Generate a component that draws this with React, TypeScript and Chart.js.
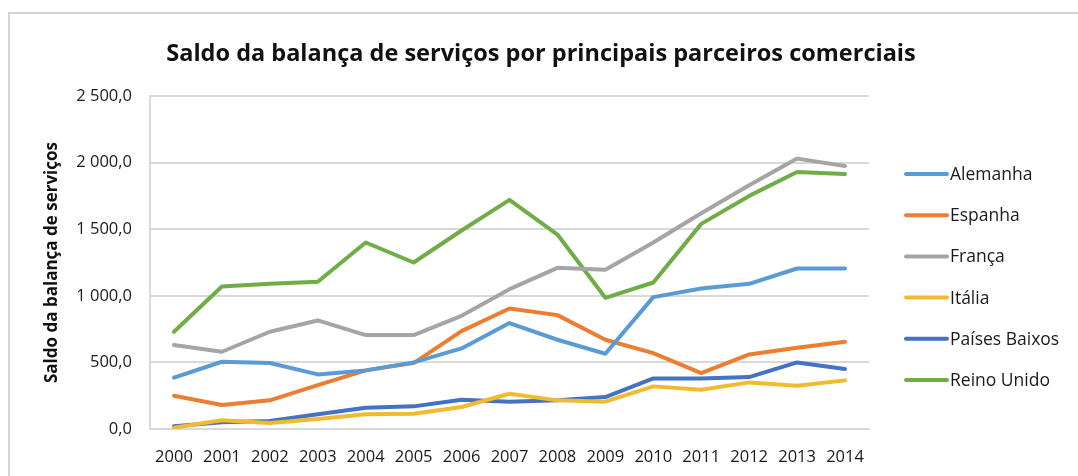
import React, { useEffect, useRef } from "react";
import { Chart, registerables } from "chart.js";

Chart.register(...registerables);

const years = ["2000","2001","2002","2003","2004","2005","2006","2007","2008","2009","2010","2011","2012","2013","2014"];

const alemanha = [385, 505, 495, 410, 440, 500, 605, 795, 670, 565, 990, 1055, 1090, 1205, 1205];
const espanha = [250, 180, 215, 330, 440, 495, 735, 905, 855, 670, 570, 420, 560, 610, 655];
const franca = [630, 580, 730, 815, 705, 705, 850, 1050, 1210, 1195, 1400, 1620, 1830, 2030, 1975];
const italia = [10, 65, 45, 75, 110, 115, 165, 265, 215, 205, 320, 295, 350, 325, 365];
const paisesBaixos = [20, 50, 60, 110, 160, 170, 220, 205, 215, 240, 380, 380, 390, 500, 450];
const reinoUnido = [730, 1070, 1090, 1105, 1400, 1250, 1490, 1720, 1460, 985, 1100, 1540, 1750, 1930, 1915];

const seriesNames = ["Alemanha", "Espanha", "França", "Itália", "Países Baixos", "Reino Unido"];
const seriesColors = ["#5B9BD5", "#ED7D31", "#A5A5A5", "#F2BA2E", "#4472C4", "#70AD47"];

const titleText = "Saldo da balança de serviços por principais parceiros comerciais";
const yTitle = "Saldo da balança de serviços";

const FONT = "'Open Sans', 'DejaVu Sans', sans-serif";

function fmt(v: number): string {
  const s = Math.abs(v).toFixed(1);
  const [i, d] = s.split(".");
  const withSep = i.replace(/\B(?=(\d{3})+(?!\d))/g, " ");
  return (v < 0 ? "-" : "") + withSep + "," + d;
}

const framePlugin = {
  id: "frame",
  beforeDraw(chart: any) {
    const ctx = chart.ctx;
    ctx.save();
    ctx.fillStyle = "#ffffff";
    ctx.fillRect(0, 0, chart.width, chart.height);
    ctx.strokeStyle = "#D4D4D4";
    ctx.lineWidth = 2;
    ctx.beginPath();
    ctx.moveTo(9, chart.height);
    ctx.lineTo(9, 13);
    ctx.lineTo(chart.width, 13);
    ctx.stroke();
    ctx.restore();
  },
  afterDraw(chart: any) {
    const ctx = chart.ctx;
    ctx.save();
    ctx.fillStyle = "#111111";
    ctx.font = `bold 23.5px ${FONT}`;
    ctx.textAlign = "center";
    ctx.textBaseline = "middle";
    ctx.fillText(titleText, 541, 54);
    ctx.restore();
  },
};

const legendPlugin = {
  id: "sideLegend",
  afterDraw(chart: any) {
    const ctx = chart.ctx;
    ctx.save();
    chart.data.datasets.forEach((ds: any, i: number) => {
      const y = 174 + i * 41.2;
      ctx.strokeStyle = ds.borderColor;
      ctx.lineWidth = 4;
      ctx.lineCap = "round";
      ctx.beginPath();
      ctx.moveTo(906, y);
      ctx.lineTo(947, y);
      ctx.stroke();
      ctx.fillStyle = "#1a1a1a";
      ctx.font = `17.5px ${FONT}`;
      ctx.textBaseline = "middle";
      ctx.textAlign = "left";
      ctx.fillText(ds.label, 950, y + 1);
    });
    ctx.restore();
  },
};

export default function App() {
  const ref = useRef<HTMLCanvasElement>(null);

  useEffect(() => {
    if (!ref.current) return;
    const data = [alemanha, espanha, franca, italia, paisesBaixos, reinoUnido];
    const chart = new Chart(ref.current, {
      type: "line",
      data: {
        labels: years,
        datasets: data.map((d, i) => ({
          label: seriesNames[i],
          data: d,
          borderColor: seriesColors[i],
          backgroundColor: seriesColors[i],
          borderWidth: 4,
          pointRadius: 0,
          tension: 0,
          borderJoinStyle: "round" as const,
          borderCapStyle: "round" as const,
        })),
      },
      options: {
        animation: false,
        responsive: false,
        maintainAspectRatio: false,
        layout: { padding: { left: 9, right: 209, top: 96, bottom: 0 } },
        plugins: {
          legend: { display: false },
          tooltip: { enabled: false },
          title: { display: false },
        },
        scales: {
          x: {
            offset: true,
            afterFit(scale: any) {
              scale.height = 47;
            },
            grid: { display: false, drawTicks: false },
            border: { display: true, color: "#D9D9D9", width: 2 },
            ticks: {
              color: "#1a1a1a",
              font: { family: FONT, size: 16.5 },
              padding: 18,
              maxRotation: 0,
              autoSkip: false,
            },
          },
          y: {
            min: 0,
            max: 2500,
            afterFit(scale: any) {
              scale.width = 141;
            },
            grid: { color: "#D9D9D9", lineWidth: 2, drawTicks: false },
            border: { display: true, color: "#D9D9D9", width: 2 },
            ticks: {
              stepSize: 500,
              color: "#1a1a1a",
              font: { family: FONT, size: 16.5 },
              padding: 18,
              callback: (v: any) => fmt(Number(v)),
            },
            title: {
              display: true,
              text: yTitle,
              color: "#111111",
              font: { family: FONT, size: 17, weight: "bold" },
              padding: { top: 33, bottom: 0 },
            },
          },
        },
      },
      plugins: [framePlugin, legendPlugin],
    });
    return () => chart.destroy();
  }, []);

  return (
    <div style={{ position: "fixed", left: 0, top: 0, width: 1078, height: 476, background: "#fff" }}>
      <canvas ref={ref} width={1078} height={476} style={{ width: 1078, height: 476, display: "block" }} />
    </div>
  );
}
